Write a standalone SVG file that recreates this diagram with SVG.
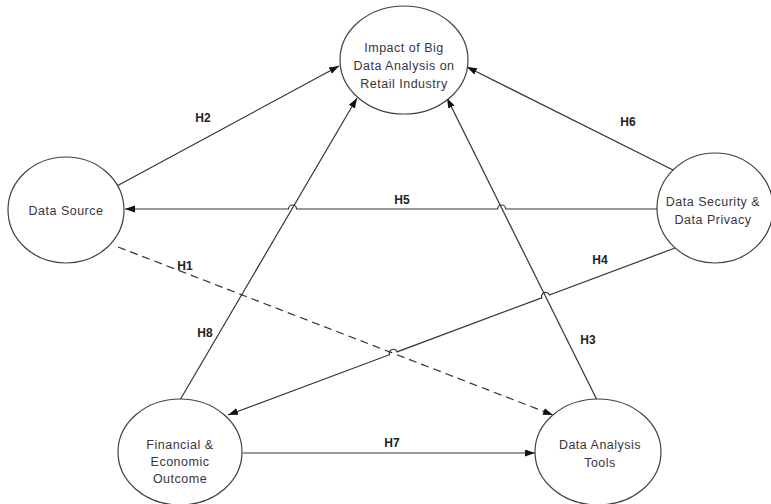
<svg xmlns="http://www.w3.org/2000/svg" width="771" height="504" viewBox="0 0 771 504">
<style>
.node{fill:#fff;stroke:#404040;stroke-width:1.2}
.t{font-family:"Liberation Sans",Arial,sans-serif;font-size:12.5px;fill:#3a3340;text-anchor:middle;letter-spacing:0.5px}
.lbl{font-family:"Liberation Sans",Arial,sans-serif;font-size:12px;font-weight:bold;fill:#222;text-anchor:middle}
.c{fill:none;stroke:#333;stroke-width:1.2;marker-end:url(#ah)}
.d{stroke-dasharray:8,5}
</style>
<defs>
<marker id="ah" markerUnits="userSpaceOnUse" markerWidth="11" markerHeight="8" refX="10" refY="3.5" orient="auto">
<path d="M0,0 L10,3.5 L0,7 z" fill="#111" stroke="none"/>
</marker>
</defs>
<g id="connectors">
<path class="c" d="M115,187 L339,66"/>
<path class="c" d="M677,172 L467,67"/>
<path class="c" d="M657,209 H505.6 A4,4 0 0 0 497.6,209 H296.5 A4,4 0 0 0 288.5,209 H125"/>
<path class="c" d="M675,248 L549.3,295 A4,4 0 0 0 541.8,297.8 L397,351.9 A4,4 0 0 0 389.5,354.7 L228,415"/>
<path class="c d" d="M118,247 L553,415"/>
<path class="c" d="M180,400 L357,98"/>
<path class="c" d="M597,400 L447,98"/>
<path class="c" d="M243,453 L535,453"/>
</g>
<g id="labels">
<text class="lbl" x="203" y="122">H2</text>
<text class="lbl" x="628" y="126">H6</text>
<text class="lbl" x="402" y="204">H5</text>
<text class="lbl" x="185" y="270">H1</text>
<text class="lbl" x="600" y="264">H4</text>
<text class="lbl" x="205" y="337">H8</text>
<text class="lbl" x="588" y="344">H3</text>
<text class="lbl" x="392" y="447">H7</text>
</g>
<g id="impact">
<ellipse class="node" cx="404" cy="60" rx="64" ry="54"/>
<text class="t" x="404" y="52">Impact of Big</text>
<text class="t" x="404" y="70">Data Analysis on</text>
<text class="t" x="404" y="88">Retail Industry</text>
</g>
<g id="data-source">
<ellipse class="node" cx="66" cy="210" rx="58" ry="53"/>
<text class="t" x="66" y="215">Data Source</text>
</g>
<g id="data-security">
<ellipse class="node" cx="715" cy="208" rx="58" ry="55"/>
<text class="t" x="713" y="206">Data Security &amp;</text>
<text class="t" x="713" y="224">Data Privacy</text>
</g>
<g id="financial">
<ellipse class="node" cx="180" cy="452" rx="62" ry="53"/>
<text class="t" x="180" y="449">Financial &amp;</text>
<text class="t" x="180" y="466">Economic</text>
<text class="t" x="180" y="483">Outcome</text>
</g>
<g id="tools">
<ellipse class="node" cx="598" cy="452" rx="63" ry="53"/>
<text class="t" x="600" y="449">Data Analysis</text>
<text class="t" x="600" y="467">Tools</text>
</g>
</svg>
